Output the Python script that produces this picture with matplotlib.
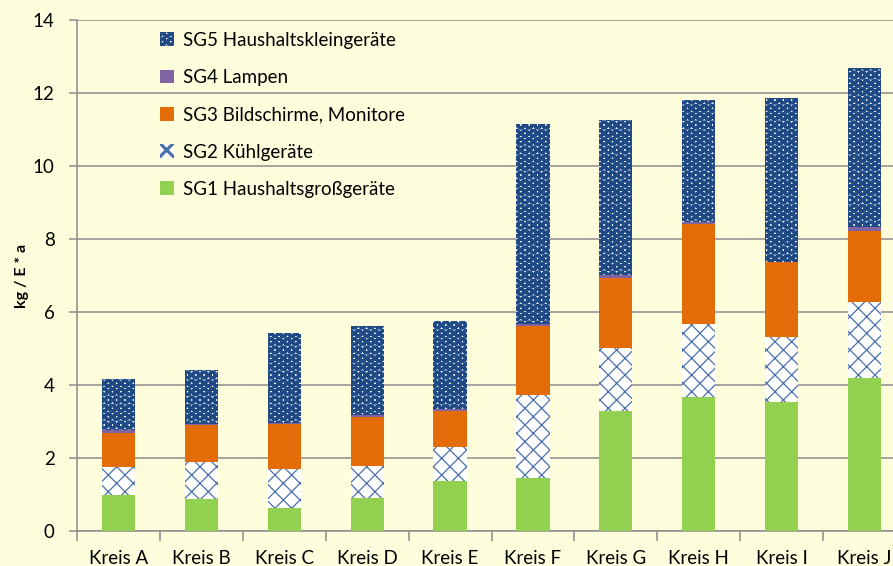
import matplotlib
matplotlib.use("Agg")
import matplotlib.pyplot as plt
import numpy as np

categories = ["Kreis A", "Kreis B", "Kreis C", "Kreis D", "Kreis E",
              "Kreis F", "Kreis G", "Kreis H", "Kreis I", "Kreis J"]
sg1 = [1.00, 0.87, 0.63, 0.91, 1.37, 1.45, 3.29, 3.67, 3.53, 4.20]
sg2 = [0.75, 1.02, 1.07, 0.86, 0.93, 2.28, 1.73, 2.01, 1.79, 2.08]
sg3 = [0.93, 1.01, 1.23, 1.36, 0.99, 1.90, 1.92, 2.74, 2.04, 1.95]
sg4 = [0.09, 0.03, 0.04, 0.04, 0.04, 0.04, 0.08, 0.05, 0.02, 0.09]
sg5 = [1.40, 1.47, 2.46, 2.45, 2.42, 5.48, 4.25, 3.33, 4.49, 4.36]
labels = ["SG1 Haushaltsgroßgeräte", "SG2 Kühlgeräte",
          "SG3 Bildschirme, Monitore", "SG4 Lampen", "SG5 Haushaltskleingeräte"]
yticks = [0, 2, 4, 6, 8, 10, 12, 14]

plt.rcParams['font.family'] = ['Lato', 'DejaVu Sans']
bg = '#FEFEDD'
blue = '#1F4A85'

fig = plt.figure(figsize=(8.93, 5.66), dpi=100, facecolor=bg)
ax = fig.add_axes([77/893, 1-531/566, 829/893, 511/566], facecolor=bg)

x = np.arange(len(categories))
w = 0.40
series = [sg1, sg2, sg3, sg4, sg5]
styles = [
    dict(facecolor='#92D050', edgecolor='#92D050', hatch=None, hlw=1.0),
    dict(facecolor='white', edgecolor='#4A70AC', hatch='xx', hlw=0.9),
    dict(facecolor='#E36C09', edgecolor='#E36C09', hatch=None, hlw=1.0),
    dict(facecolor='#8064A2', edgecolor='#8064A2', hatch=None, hlw=1.0),
    dict(facecolor='white', edgecolor=blue, hatch='OO', hlw=2.3),
]
bottom = np.zeros(len(categories))
handles = []
for vals, st, lab in zip(series, styles, labels):
    plt.rcParams['hatch.linewidth'] = st['hlw']
    bars = ax.bar(x, vals, w, bottom=bottom, label=lab, linewidth=0,
                  facecolor=st['facecolor'], edgecolor=st['edgecolor'],
                  hatch=st['hatch'], zorder=3)
    handles.append(bars)
    bottom += np.array(vals)

ax.set_xlim(-0.5, len(categories) - 0.5)
ax.set_ylim(0, 14)
ax.set_yticks(yticks)
ax.set_yticklabels([str(t) for t in yticks])
ax.yaxis.grid(True, color='#8C8C8C', linewidth=1.1, zorder=0)
ax.set_axisbelow(True)

ax.set_xticks(x)
ax.set_xticklabels(categories)
ax.set_xticks(np.arange(-0.5, len(categories), 1.0), minor=True)
ax.tick_params(axis='x', which='major', length=0, pad=14, labelsize=13.5, colors='black')
ax.tick_params(axis='x', which='minor', length=7, width=1.1, color='#8C8C8C')
ax.tick_params(axis='y', length=6, width=1.1, color='#8C8C8C', pad=10, labelsize=13.5)

for s in ['top', 'right']:
    ax.spines[s].set_visible(False)
for s in ['left', 'bottom']:
    ax.spines[s].set_color('#8C8C8C')
    ax.spines[s].set_linewidth(1.1)

ax.set_ylabel("kg / E * a", fontsize=11.5, fontweight='bold', labelpad=3)

leg = ax.legend(handles[::-1], labels[::-1], loc='upper left',
                bbox_to_anchor=(0.08, 1.01), frameon=False,
                fontsize=13.5, labelspacing=1.08, handlelength=0.75,
                handleheight=0.75, handletextpad=0.45)

fig.savefig("out.png", dpi=100, facecolor=bg)
